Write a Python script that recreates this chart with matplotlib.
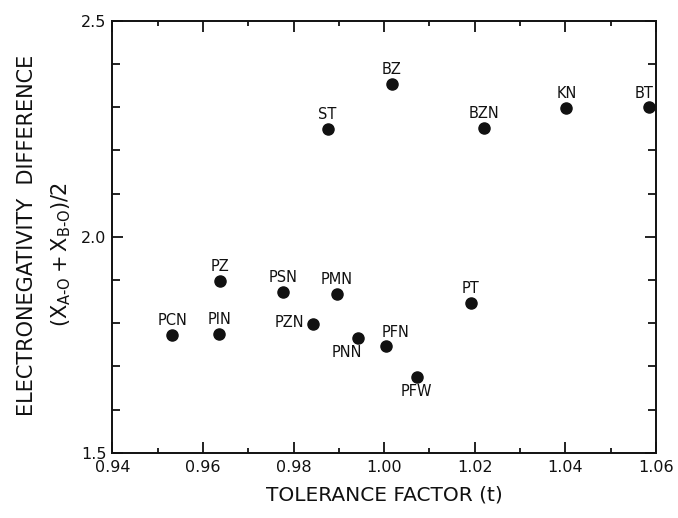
import matplotlib
matplotlib.use('Agg')
import matplotlib.pyplot as plt
from matplotlib.ticker import MultipleLocator, FixedFormatter, FixedLocator

# compounds, tolerance factor t, electronegativity difference
names = ['BZ', 'ST', 'BZN', 'KN', 'BT', 'PZ', 'PSN', 'PMN', 'PT',
         'PCN', 'PIN', 'PZN', 'PNN', 'PFN', 'PFW']
tol = [1.0017, 0.9875, 1.0221, 1.0402, 1.0585, 0.9638, 0.9777, 0.9895, 1.0191,
       0.9532, 0.9636, 0.9844, 0.9943, 1.0004, 1.0072]
eneg = [2.353, 2.249, 2.252, 2.298, 2.300, 1.898, 1.872, 1.867, 1.846,
        1.773, 1.774, 1.798, 1.765, 1.746, 1.675]

# label offsets (points) relative to the dot
offs = {'PZN': (-17, 1), 'PNN': (-8, -10), 'PFN': (7, 10), 'PFW': (0, -10),
        'BT': (-4, 10)}

xticks = [0.94, 0.96, 0.98, 1.00, 1.02, 1.04, 1.06]
xtick_labels = ['0.94', '0.96', '0.98', '1.00', '1.02', '1.04', '1.06']
yticks = [1.5, 2.0, 2.5]
ytick_labels = ['1.5', '2.0', '2.5']

plt.rcParams['font.family'] = 'DejaVu Sans'
plt.rcParams['mathtext.default'] = 'regular'
fig = plt.figure(figsize=(6.78, 5.18), dpi=100)
ax = fig.add_axes([0.1656, 0.1261, 0.8020, 0.8334])

ax.plot(tol, eneg, 'o', color='#111111', markersize=8)
for n, x, y in zip(names, tol, eneg):
    dx, dy = offs.get(n, (0, 10.5))
    ax.annotate(n, (x, y), xytext=(dx, dy), textcoords='offset points',
                ha='center', va='center', fontsize=10.5, color='#111111')

ax.set_xlim(0.94, 1.06)
ax.set_ylim(1.5, 2.5)
ax.xaxis.set_major_locator(FixedLocator(xticks))
ax.xaxis.set_major_formatter(FixedFormatter(xtick_labels))
ax.xaxis.set_minor_locator(MultipleLocator(0.01))
ax.yaxis.set_major_locator(FixedLocator(yticks))
ax.yaxis.set_major_formatter(FixedFormatter(ytick_labels))
ax.yaxis.set_minor_locator(MultipleLocator(0.1))

ax.tick_params(which='both', direction='in', top=True, right=True,
               color='#111111', width=1.3, labelsize=11.5, labelcolor='#111111')
ax.tick_params(axis='x', which='major', length=8, pad=5)
ax.tick_params(axis='x', which='minor', length=3.5)
ax.tick_params(axis='y', which='major', length=8, pad=4)
ax.tick_params(axis='y', which='minor', length=5.5)
for s in ax.spines.values():
    s.set_linewidth(1.4)
    s.set_color('#111111')

ax.set_xlabel('TOLERANCE FACTOR (t)', fontsize=14.5, labelpad=8, color='#111111')
fig.text(0.040, 0.545, 'ELECTRONEGATIVITY  DIFFERENCE', rotation=90,
         ha='center', va='center', fontsize=15, color='#111111')
fig.text(0.090, 0.508, '$(X_{A\u2010O} + X_{B\u2010O})/2$',
         rotation=90, ha='center', va='center', fontsize=15, color='#111111')

fig.savefig('out.png', dpi=100)
